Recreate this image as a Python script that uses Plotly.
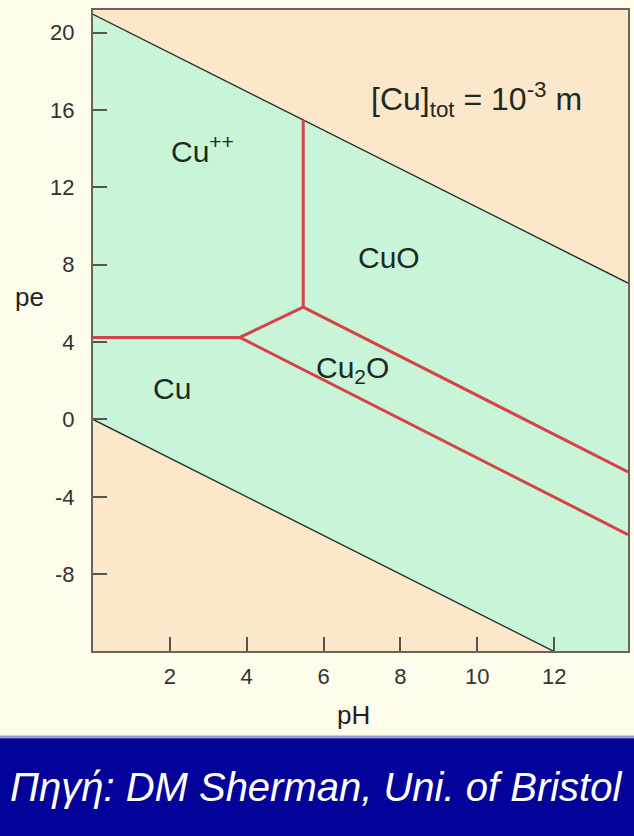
import plotly.graph_objects as go

# ---- data (pH, pe) ----
x_range = [0, 13.92]
y_range = [-11.97, 21.17]

upper_water_ph = [0, 13.92]
upper_water_pe = [20.95, 7.05]
lower_water_ph = [0, 12.0]
lower_water_pe = [0, -12.0]

cu_cupp_ph = [0, 3.82]
cu_cupp_pe = [4.24, 4.24]
cupp_cu2o_ph = [3.82, 5.47]
cupp_cu2o_pe = [4.24, 5.81]
cupp_cuo_ph = [5.47, 5.47]
cupp_cuo_pe = [5.81, 15.48]
cuo_cu2o_ph = [5.47, 13.92]
cuo_cu2o_pe = [5.81, -2.71]
cu2o_cu_ph = [3.82, 13.92]
cu2o_cu_pe = [4.24, -5.95]

labels = ["Cu<sup>++</sup>", "CuO", "Cu<sub>2</sub>O", "Cu"]
label_ph = [2.85, 7.7, 6.75, 2.05]
label_pe = [14.0, 8.4, 2.6, 1.6]
note_text = "[Cu]<sub>tot</sub> = 10<sup>-3</sup> m"
note_ph, note_pe = 9.98, 16.55

x_ticks = [2, 4, 6, 8, 10, 12]
y_ticks = [-8, -4, 0, 4, 8, 12, 16, 20]
y_ticktext = ["-8", "-4", "0", "4", "8", "12", "16", "20"]

PEACH = "#FCE7CB"
MINT = "#C8F5D8"
RED = "#D4434A"
CREAM = "#FEFCEA"
FONT = "Liberation Sans, Arial, sans-serif"

fig = go.Figure()

# water stability field
poly_x = upper_water_ph + [x_range[1], lower_water_ph[1]] + lower_water_ph[::-1]
poly_y = upper_water_pe + [y_range[0], y_range[0]] + lower_water_pe[::-1]
fig.add_trace(go.Scatter(x=poly_x, y=poly_y, mode="lines", fill="toself",
                         fillcolor=MINT, line=dict(width=0), hoverinfo="skip"))

for xs, ys in [(upper_water_ph, upper_water_pe), (lower_water_ph, lower_water_pe)]:
    fig.add_trace(go.Scatter(x=xs, y=ys, mode="lines",
                             line=dict(color="#26302a", width=1.4), hoverinfo="skip"))

for xs, ys in [(cu_cupp_ph, cu_cupp_pe), (cupp_cu2o_ph, cupp_cu2o_pe),
               (cupp_cuo_ph, cupp_cuo_pe), (cuo_cu2o_ph, cuo_cu2o_pe),
               (cu2o_cu_ph, cu2o_cu_pe)]:
    fig.add_trace(go.Scatter(x=xs, y=ys, mode="lines",
                             line=dict(color=RED, width=3), hoverinfo="skip"))

for t, x, y in zip(labels, label_ph, label_pe):
    fig.add_annotation(x=x, y=y, text=t, showarrow=False,
                       font=dict(family=FONT, size=30, color="#1c2a22"))
fig.add_annotation(x=note_ph, y=note_pe, text=note_text, showarrow=False,
                   font=dict(family=FONT, size=32, color="#1c2a22"))

# axis titles as horizontal text
fig.add_annotation(xref="paper", yref="paper", x=-0.118, y=0.552, text="pe", showarrow=False,
                   font=dict(family=FONT, size=26, color="#222"), xanchor="center", yanchor="middle")
fig.add_annotation(xref="paper", yref="paper", x=0.487, y=-0.1, text="pH", showarrow=False,
                   font=dict(family=FONT, size=26, color="#222"), xanchor="center", yanchor="middle")

# banner
fig.add_shape(type="rect", xref="paper", yref="paper", x0=-0.2, x1=1.1, y0=-0.132, y1=-0.136,
              fillcolor="#9A9AD8", line=dict(width=0), layer="below")
fig.add_shape(type="rect", xref="paper", yref="paper", x0=-0.2, x1=1.1, y0=-0.136, y1=-0.3,
              fillcolor="#03039A", line=dict(width=0), layer="below")
fig.add_annotation(xref="paper", yref="paper", x=0.417, y=-0.212, text="<i>Πηγή: DM Sherman, Uni. of Bristol</i>",
                   showarrow=False, font=dict(family=FONT, size=40, color="white"),
                   xanchor="center", yanchor="middle")

axis_common = dict(showgrid=False, zeroline=False, ticks="inside", ticklen=14, tickwidth=1.5,
                   tickcolor="#5a5448", showline=True, linecolor="#6b6458", linewidth=2,
                   mirror=True, tickfont=dict(family=FONT, size=22, color="#333"))

fig.update_layout(
    width=634, height=836,
    margin=dict(l=93, r=4, t=10, b=185),
    paper_bgcolor=CREAM, plot_bgcolor=PEACH,
    showlegend=False,
    xaxis=dict(range=x_range, tickvals=x_ticks, ticklabelstandoff=5, **axis_common),
    yaxis=dict(range=y_range, tickvals=y_ticks, ticktext=y_ticktext, ticklabelstandoff=12, **axis_common),
)

fig.write_html("out.html")
